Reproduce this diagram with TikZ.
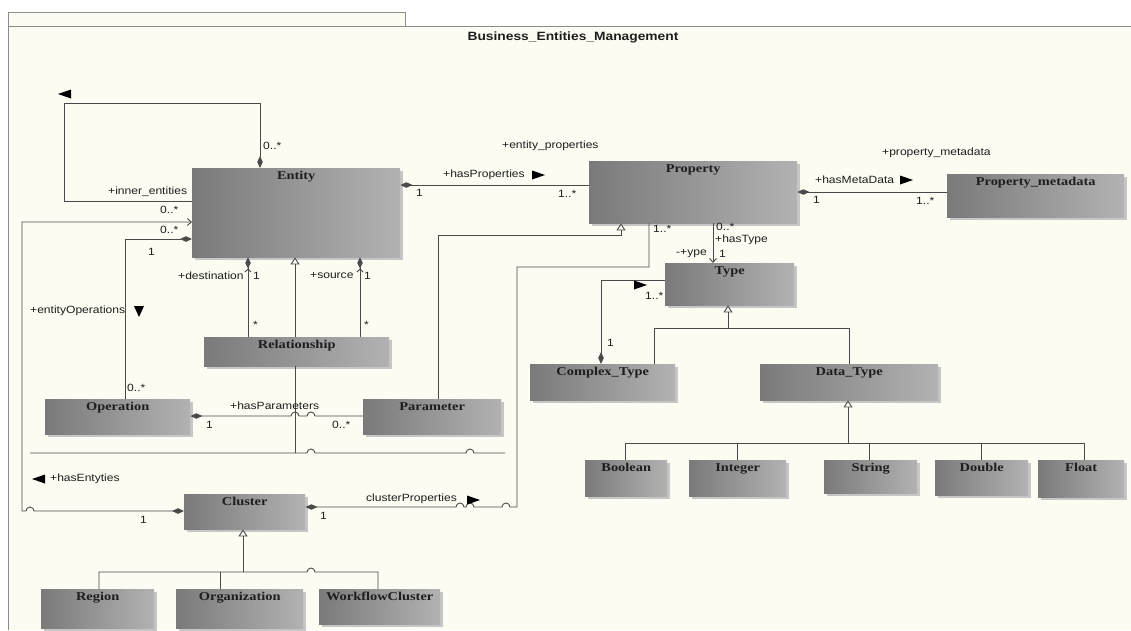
\documentclass[tikz,border=0pt]{standalone}
\usepackage{fontspec}
\setmainfont{Liberation Serif}[FakeStretch=1.2]
\newfontfamily\lblfont{Liberation Sans}[FakeStretch=1.15]
\usetikzlibrary{arrows.meta,shadows}
\definecolor{cream}{HTML}{FCFCF3}
\definecolor{boxdark}{HTML}{7A7A7A}
\definecolor{boxlight}{HTML}{B2B2B2}
\definecolor{shadowc}{HTML}{C6C6C6}
\definecolor{linec}{HTML}{4A4A4A}
\definecolor{framec}{HTML}{8C8C8C}
\definecolor{txt}{HTML}{1E1E1E}
\tikzset{
  cls/.style={rectangle, draw=none, inner sep=0pt, anchor=north west,
    left color=boxdark, right color=boxlight,
    general shadow={fill=shadowc, shadow xshift=2.5pt, shadow yshift=-2.5pt}},
  ttl/.style={font=\bfseries\fontsize{12}{14}\selectfont, text=txt, inner sep=0pt, anchor=north},
  lbl/.style={font=\lblfont\fontsize{10.5}{12}\selectfont, text=txt, inner sep=0pt, anchor=west},
  conn/.style={draw=linec, line width=0.9pt},
  compS/.style={{Diamond[length=12pt,width=5.5pt]}-},
  gen/.style={-{Triangle[open,length=7pt,width=9pt,fill=cream]}},
  nav/.style={-{Straight Barb[length=4pt,width=7pt]}},
  dirmark/.style={fill=black},
}
\newcommand\umlclass[5]{%
  \node[cls, minimum width=#3pt, minimum height=#4pt] (#1) at (#2) {};
  \node[ttl] (#1-t) at ([yshift=-3pt]#1.north) {#5};}
\begin{document}
\begin{tikzpicture}[x=1pt,y=-1pt]
\useasboundingbox (0,0) rectangle (1131,630);
\fill[white] (0,0) rectangle (1131,630);
\fill[cream] (8,12) rectangle (405,26);
\fill[cream] (8,26) rectangle (1131,630);
\draw[framec, line width=0.8pt] (8,630) -- (8,12) -- (405,12) -- (405,26);
\draw[framec, line width=0.8pt] (8,26) -- (1131,26);
\node[font=\lblfont\bfseries\fontsize{12}{14}\selectfont, text=txt] (title) at (573,37) {Business\_Entities\_Management};

% classes
\umlclass{entity}{192,168}{208}{89}{Entity}
\umlclass{property}{589,161}{208}{62}{Property}
\umlclass{pmeta}{947,174}{177}{43}{Property\_metadata}
\umlclass{type}{665,263}{129}{42}{Type}
\umlclass{complex}{530,364}{145}{36}{Complex\_Type}
\umlclass{datatype}{760,364}{178}{36}{Data\_Type}
\umlclass{boolean}{585,460}{82}{36}{Boolean}
\umlclass{integer}{689,460}{97}{36}{Integer}
\umlclass{string}{824,460}{93}{33}{String}
\umlclass{double}{935,460}{93}{35}{Double}
\umlclass{float}{1038,460}{86}{37}{Float}
\umlclass{relationship}{204,337}{185}{29}{Relationship}
\umlclass{operation}{45,399}{145}{35}{Operation}
\umlclass{parameter}{363,399}{138}{35}{Parameter}
\umlclass{cluster}{184,494}{121}{35}{Cluster}
\umlclass{region}{41,589}{113}{39}{Region}
\umlclass{organization}{176,589}{127}{39}{Organization}
\umlclass{wf}{319,589}{121}{35}{WorkflowCluster}

% free line ends
\coordinate (hl) at (30,453);
\coordinate (hr) at (505,453);

% Entity self loop
\draw[conn, compS] (260,0 |- entity.north) |- (64,103) |- (entity.west |- 0,201);
% Cluster -> Entity
\draw[conn, {Diamond[length=12pt,width=5.5pt]}-{Straight Barb[length=4pt,width=7pt]}]
  (cluster.west |- 0,511) -- (34,511) arc[start angle=0,end angle=-180,radius=4]
  -- (22,511) -- (22,222) -- (entity.west |- 0,222);
% Entity - Operation
\draw[conn, compS] (entity.west |- 0,239) -| (125,0 |- operation.north);
% Relationship destination / source
\draw[conn, -{Straight Barb[length=3pt,width=6pt] Diamond[length=11pt,width=5.5pt]}]
  (248,0 |- relationship.north) -- (248,0 |- entity.south);
\draw[conn, -{Straight Barb[length=3pt,width=6pt] Diamond[length=11pt,width=5.5pt]}]
  (360,0 |- relationship.north) -- (360,0 |- entity.south);
% Relationship generalization
\draw[conn, gen] (295,0 |- relationship.north) -- (295,0 |- entity.south);
\draw[conn] (295,0 |- relationship.south) -- (295,0 |- hl);
\draw[conn] (hl) -- (307,453) arc[start angle=180,end angle=360,radius=4]
  -- (466,453) arc[start angle=180,end angle=360,radius=4] -- (hr);
% Operation - Parameter
\draw[conn, compS] (operation.east |- 0,416) -- (291,416) arc[start angle=180,end angle=360,radius=4]
  -- (307,416) arc[start angle=180,end angle=360,radius=4] -- (parameter.west |- 0,416);
% Parameter -> Property generalization
\draw[conn, gen] (438,0 |- parameter.north) |- (621,235) -- (621,0 |- property.south);
% Entity - Property
\draw[conn, compS] (entity.east |- 0,185) -- (property.west |- 0,185);
% Property - Property_metadata
\draw[conn, compS] (property.east |- 0,192) -- (pmeta.west |- 0,192);
% Property -> Type
\draw[conn, nav] (713,0 |- property.south) -- (713,0 |- type.north);
% Cluster - Property
\draw[conn, compS] (cluster.east |- 0,507) -- (456,507) arc[start angle=180,end angle=360,radius=4]
  -- (466,507) arc[start angle=180,end angle=360,radius=4]
  -- (502,507) arc[start angle=180,end angle=360,radius=4]
  -- (517,507) -- (517,267) -- (649,267) -- (649,0 |- property.south);
% Complex_Type - Type
\draw[conn, compS] (601,0 |- complex.north) |- (type.west |- 0,280);
% Type generalization
\draw[conn] (654,0 |- complex.north) |- (849,328) -- (849,0 |- datatype.north);
\draw[conn, gen] (728,328) -- (728,0 |- type.south);
% Data_Type generalization
\draw[conn] (625,0 |- boolean.north) |- (1084,443) -- (1084,0 |- float.north);
\draw[conn] (737,0 |- integer.north) -- (737,443);
\draw[conn] (869,0 |- string.north) -- (869,443);
\draw[conn] (981,0 |- double.north) -- (981,443);
\draw[conn, gen] (848,443) -- (848,0 |- datatype.south);
% Cluster generalization
\draw[conn] (99,0 |- region.north) |- (307,572) arc[start angle=180,end angle=360,radius=4]
  -- (378,572) -- (378,0 |- wf.north);
\draw[conn] (220,0 |- organization.north) -- (220,572);
\draw[conn, gen] (243,572) -- (243,0 |- cluster.south);

% direction marks
\fill[dirmark] (58,94) -- (71,89.5) -- (71,98.5) -- cycle;
\fill[dirmark] (134,306) -- (144,306) -- (139,317) -- cycle;
\fill[dirmark] (32,479) -- (45,474.5) -- (45,483.5) -- cycle;
\fill[dirmark] (480,500) -- (467,495.5) -- (467,504.5) -- cycle;
\fill[dirmark] (545,175) -- (532,170.5) -- (532,179.5) -- cycle;
\fill[dirmark] (913,180) -- (900,175.5) -- (900,184.5) -- cycle;
\fill[dirmark] (647,285) -- (634,280.5) -- (634,289.5) -- cycle;

% labels
\node[lbl] (l1) at (263,146) {0..*};
\node[lbl] (l2) at (108,192) {+inner\_entities};
\node[lbl] (l3) at (160,210) {0..*};
\node[lbl] (l4) at (160,230) {0..*};
\node[lbl] (l5) at (148,252) {1};
\node[lbl] (l6) at (30,311) {+entityOperations};
\node[lbl] (l7) at (178,276) {+destination};
\node[lbl] (l8) at (253,276) {1};
\node[lbl] (l9) at (310,276) {+source};
\node[lbl] (l10) at (364,276) {1};
\node[lbl] (l11) at (253,325) {*};
\node[lbl] (l12) at (364,325) {*};
\node[lbl] (l13) at (127,388) {0..*};
\node[lbl] (l14) at (230,406) {+hasParameters};
\node[lbl] (l15) at (206,425) {1};
\node[lbl] (l16) at (332,425) {0..*};
\node[lbl] (l17) at (50,479) {+hasEntyties};
\node[lbl] (l18) at (140,520) {1};
\node[lbl] (l19) at (366,499) {clusterProperties};
\node[lbl] (l20) at (320,516) {1};
\node[lbl] (l21) at (502,146) {+entity\_properties};
\node[lbl] (l22) at (443,175) {+hasProperties};
\node[lbl] (l23) at (416,193) {1};
\node[lbl] (l24) at (558,194) {1..*};
\node[lbl] (l25) at (882,153) {+property\_metadata};
\node[lbl] (l26) at (815,180) {+hasMetaData};
\node[lbl] (l27) at (813,200) {1};
\node[lbl] (l28) at (916,201) {1..*};
\node[lbl] (l29) at (653,229) {1..*};
\node[lbl] (l30) at (716,227) {0..*};
\node[lbl] (l31) at (715,240) {+hasType};
\node[lbl] (l32) at (676,254) {-+ype};
\node[lbl] (l33) at (719,254) {1};
\node[lbl] (l34) at (645,296) {1..*};
\node[lbl] (l35) at (607,343) {1};
\end{tikzpicture}
\end{document}
